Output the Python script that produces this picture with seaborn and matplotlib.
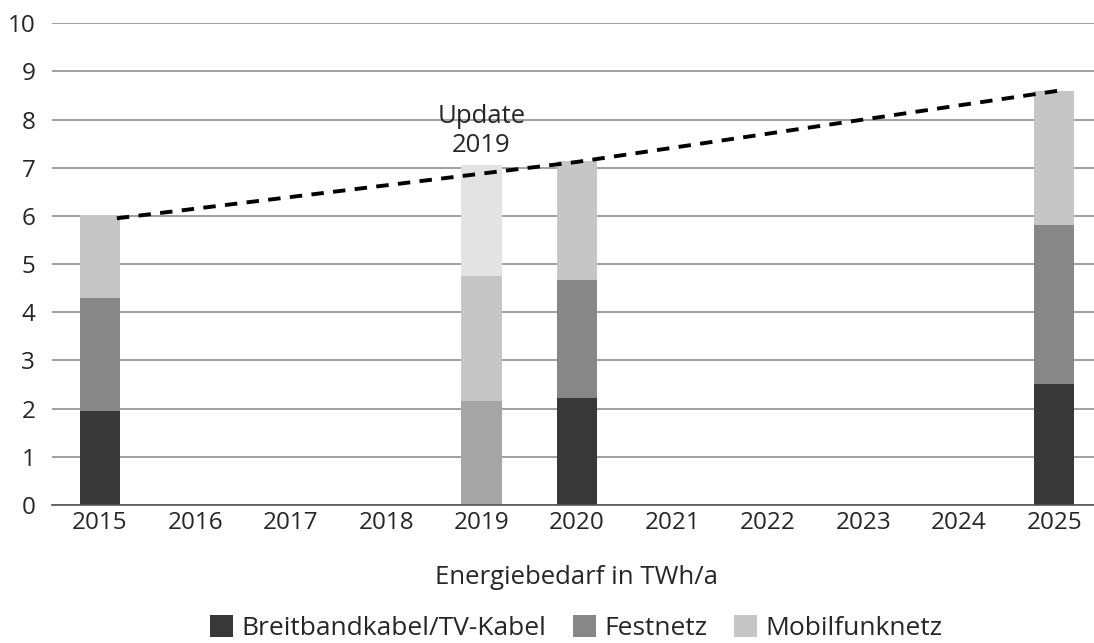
import matplotlib
matplotlib.use("Agg")
import matplotlib.pyplot as plt
from matplotlib.patches import Patch
import numpy as np
import pandas as pd
import seaborn as sns

# all category slots on the x axis
YEARS = [str(y) for y in range(2015, 2026)]

# stacked bars (bottom -> top)
bar_years = ["2015", "2019", "2020", "2025"]
breitband = [1.96, 2.16, 2.23, 2.51]
festnetz = [2.33, 2.60, 2.44, 3.30]
mobilfunk = [1.72, 2.30, 2.46, 2.79]

# dashed trend line through the 2015, 2020 and 2025 totals (year position, value)
trend_years = [2015.18, 2020.0, 2025.05]
trend_vals = [5.95, 7.12, 8.6]

SERIES = ["Breitbandkabel/TV-Kabel", "Festnetz", "Mobilfunknetz"]
COLORS = ["#383838", "#878787", "#c6c6c6"]
# the 2019 update bar is drawn in lighter shades
COLORS_2019 = ["#a6a6a6", "#c6c6c6", "#e3e3e3"]

sns.set_style("white")
plt.rcParams["font.family"] = ["Open Sans", "DejaVu Sans"]
FS = 18.5

fig = plt.figure(figsize=(10.94, 6.43), dpi=100)
ax = fig.add_axes([0.0475, 0.2146, 0.9598, 0.7494])

df = pd.DataFrame({"year": bar_years, "b": breitband, "f": festnetz, "m": mobilfunk})
df["l1"] = df["b"]
df["l2"] = df["b"] + df["f"]
df["l3"] = df["l2"] + df["m"]

# draw cumulative totals tallest first, so lower layers sit on top
for i, col in reversed(list(enumerate(["l1", "l2", "l3"]))):
    pal = {y: COLORS[i] for y in YEARS}
    pal["2019"] = COLORS_2019[i]
    sns.barplot(data=df, x="year", y=col, hue="year", order=YEARS,
                palette=pal, width=0.42, legend=False, ax=ax,
                saturation=1, linewidth=0, zorder=3)

ax.plot(np.array(trend_years) - 2015, trend_vals, color="black",
        linestyle=(0, (3.2, 2.4)), linewidth=2.8, zorder=4)

ax.text(4, 7.76, "Update\n2019", ha="center", va="center", fontsize=FS,
        linespacing=1.2, zorder=5)

ax.set_ylim(0, 10)
ax.set_xlim(-0.5, 10.5)
ax.set_yticks(range(0, 11))
ax.yaxis.grid(True, color="#a0a0a0", linewidth=1.4, zorder=0)
ax.tick_params(axis="y", length=0, pad=12, labelsize=17.5)
ax.set_xticks(range(len(YEARS)))
ax.set_xticklabels(YEARS)
ax.tick_params(axis="x", length=0, pad=4, labelsize=17.5)
ax.set_xticks(np.arange(-0.5, 10.6, 1), minor=True)
ax.tick_params(axis="x", which="minor", length=6, width=1, color="#555555",
               direction="out")
ax.set_ylabel("")
ax.set_xlabel("Energiebedarf in TWh/a", fontsize=FS, labelpad=22)

for side in ["top", "right", "left"]:
    ax.spines[side].set_visible(False)
ax.spines["bottom"].set_color("#555555")
ax.spines["bottom"].set_linewidth(1.2)
ax.spines["bottom"].set_zorder(6)

handles = [Patch(facecolor=c, edgecolor="none") for c in COLORS]
fig.legend(handles, SERIES, loc="center", bbox_to_anchor=(576 / 1094, 1 - 628 / 643),
           ncol=3, frameon=False, fontsize=19, handlelength=0.9,
           handleheight=0.9, handletextpad=0.3, columnspacing=1.0,
           borderpad=0, borderaxespad=0)

fig.savefig("out.png", dpi=100)
